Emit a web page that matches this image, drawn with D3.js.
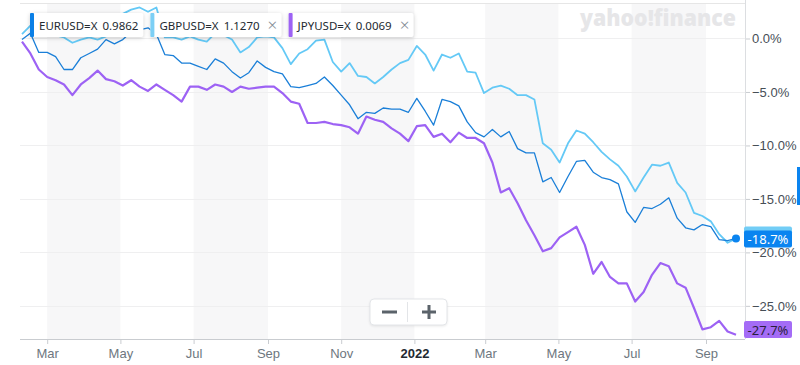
<!DOCTYPE html>
<html>
<head>
<meta charset="utf-8">
<script src="https://cdn.jsdelivr.net/npm/d3@7"></script>
<style>
  body { margin: 0; background: #fff; }
  svg { display: block; font-family: "Noto Sans", "Open Sans", sans-serif; }
</style>
</head>
<body>
<svg id="chart"></svg>
<script>
'use strict';

// weekly % change since start
var eurPct = [-0.1, 0.5, -1.3, -1.3, -1.7, -2.9, -2.9, -1.8, -1.4, -1.0,
  -0.1, -0.5, -0.1, 0.6, 0.8, 1.0, 0.4, -1.5, -1.6, -2.3,
  -2.3, -2.6, -2.9, -1.9, -2.3, -3.1, -3.7, -3.2, -2.1, -2.7,
  -3.1, -3.3, -4.5, -4.6, -4.4, -4.2, -3.6, -4.4, -5.3, -6.2,
  -7.5, -6.9, -7.0, -6.5, -6.6, -6.6, -6.9, -5.6, -6.8, -8.1,
  -5.7, -5.9, -6.3, -7.8, -8.8, -9.2, -8.5, -9.2, -8.7, -10.3,
  -10.7, -10.7, -13.4, -13.0, -14.4, -12.9, -11.5, -11.4, -12.5, -13.0,
  -13.2, -13.6, -16.2, -17.2, -15.8, -15.9, -15.5, -14.9, -16.8, -17.7,
  -17.9, -17.4, -17.6, -18.8, -18.9, -18.7];
var gbpPct = [0.4, 1.2, 1.0, 0.6, 0.3, 0.1, -0.4, -0.1, 0.1, -0.1,
  0.2, 1.0, 2.3, 2.7, 2.9, 2.5, 2.9, 0.1, 0.1, -0.1,
  0.2, -0.1, -0.3, 0.5, 0.3, -0.1, -1.3, -0.8, 0.1, 0.2,
  0.1, -0.9, -2.4, -1.4, -1.0, -0.2, -0.1, -2.2, -3.1, -2.3,
  -3.5, -3.6, -4.2, -3.6, -2.9, -2.3, -2.0, -0.7, -1.5, -3.0,
  -1.5, -1.8, -1.4, -3.1, -3.2, -5.1, -4.6, -4.4, -4.7, -5.3,
  -5.3, -5.7, -9.8, -10.4, -11.6, -9.8, -8.6, -8.9, -9.7, -10.6,
  -11.3, -11.9, -12.9, -14.3, -13.0, -11.8, -11.9, -11.6, -13.5, -14.4,
  -16.3, -16.6, -17.1, -18.3, -19.1, -18.7];
var jpyPct = [-0.3, -1.4, -2.9, -3.6, -3.9, -4.3, -5.3, -4.3, -3.7, -3.0,
  -3.8, -4.0, -4.4, -3.9, -4.5, -4.9, -4.3, -4.8, -5.3, -5.9,
  -4.5, -4.5, -4.8, -4.3, -4.5, -5.0, -4.5, -4.7, -4.6, -4.5,
  -4.5, -5.1, -5.9, -6.1, -7.9, -7.9, -7.8, -8.0, -8.1, -8.3,
  -8.9, -7.3, -7.6, -7.8, -8.4, -8.9, -9.6, -8.2, -8.1, -9.2,
  -8.9, -9.7, -8.8, -9.3, -9.3, -9.8, -11.6, -14.4, -14.0, -15.4,
  -17.0, -18.4, -19.9, -19.6, -18.6, -18.1, -17.6, -19.3, -22.0, -20.9,
  -22.3, -22.9, -22.9, -24.6, -23.7, -22.1, -21.0, -21.3, -22.9, -23.3,
  -25.2, -27.2, -27.0, -26.4, -27.4, -27.7];

var symbols = ['EURUSD=X', 'GBPUSD=X', 'JPYUSD=X'];
var prices = ['0.9862', '1.1270', '0.0069'];
// gbp's label is hidden under eur's in the original, so it has no text
var lastLabels = ['-18.7%', '', '-27.7%'];
var yTicks = [0, -5, -10, -15, -20, -25];
var monthTicks = ['2021-03-01', '2021-05-01', '2021-07-01', '2021-09-01', '2021-11-01',
  '2022-01-01', '2022-03-01', '2022-05-01', '2022-07-01', '2022-09-01'];
// shaded two-month bands
var bandStarts = ['2021-03-01', '2021-07-01', '2021-11-01', '2022-03-01', '2022-07-01'];
var bandEnds = ['2021-05-01', '2021-09-01', '2022-01-01', '2022-05-01', '2022-09-01'];

(function() {
  var colors = ['#1a7fd8', '#64c9f6', '#9d62f4'];
  var boxColors = ['#0a84f0', '#72cdf6', '#a46cf6'];

  var canvasWidth = 800;
  var canvasHeight = 365;
  var plotLeft = 20, plotRight = 745, plotTop = 3, plotBottom = 339;

  var parse = d3.utcParse('%Y-%m-%d');
  var dates = d3.utcMonday.range(parse('2021-02-08'), parse('2022-09-27'));

  var svg = d3.select('#chart')
    .attr('width', canvasWidth)
    .attr('height', canvasHeight);

  var xScale = d3.scaleUtc()
    .domain([dates[0], dates[dates.length - 1]])
    .range([22, 736]);
  var yScale = d3.scaleLinear()
    .domain([-28.1, 3.6])
    .range([plotBottom, 0]);

  // background bands
  svg.append('g').selectAll('rect')
    .data(bandStarts)
    .enter()
    .append('rect')
      .attr('x', function(d) { return xScale(parse(d)); })
      .attr('y', plotTop)
      .attr('width', function(d, i) { return xScale(parse(bandEnds[i])) - xScale(parse(d)); })
      .attr('height', plotBottom - plotTop)
      .attr('fill', '#f7f7f8');

  // watermark
  svg.append('text')
    .attr('x', 580)
    .attr('y', 26)
    .attr('textLength', 156)
    .attr('lengthAdjust', 'spacingAndGlyphs')
    .style('font-size', '23px')
    .style('font-weight', 900)
    .style('fill', '#e6e6e8')
    .text('yahoo!finance');

  // grid lines
  svg.append('g').selectAll('line')
    .data(yTicks)
    .enter()
    .append('line')
      .attr('x1', plotLeft)
      .attr('x2', plotRight)
      .attr('y1', function(d) { return Math.round(yScale(d)) + 0.5; })
      .attr('y2', function(d) { return Math.round(yScale(d)) + 0.5; })
      .attr('stroke', '#efeff0');

  svg.append('line')
    .attr('x1', plotLeft).attr('x2', plotRight)
    .attr('y1', plotTop + 0.5).attr('y2', plotTop + 0.5)
    .attr('stroke', '#e6e6e6');

  // x axis
  var fmtMonth = d3.utcFormat('%b');
  var xAxis = svg.append('g')
    .attr('transform', 'translate(0,' + plotBottom + ')')
    .call(d3.axisBottom(xScale)
      .tickValues(monthTicks.map(parse))
      .tickSize(5)
      .tickPadding(5)
      .tickFormat(function(d) { return d.getUTCMonth() === 0 ? d.getUTCFullYear() : fmtMonth(d); }));
  xAxis.select('.domain').remove();
  xAxis.selectAll('.tick line').attr('stroke', '#c9ccd0');
  xAxis.selectAll('.tick text')
    .style('font-size', '13px')
    .style('fill', function(d) { return d.getUTCMonth() === 0 ? '#232a31' : '#6e7780'; })
    .style('font-weight', function(d) { return d.getUTCMonth() === 0 ? 600 : 400; });

  svg.append('line')
    .attr('x1', plotLeft).attr('x2', plotRight)
    .attr('y1', plotBottom + 0.5).attr('y2', plotBottom + 0.5)
    .attr('stroke', '#c9ccd0');

  // y axis on the right
  var yAxis = svg.append('g')
    .attr('transform', 'translate(' + plotRight + ',0)')
    .call(d3.axisRight(yScale)
      .tickValues(yTicks)
      .tickSize(5)
      .tickPadding(2)
      .tickFormat(function(d) { return d3.format('.1f')(d) + '%'; }));
  yAxis.select('.domain').remove();
  yAxis.selectAll('.tick line').attr('stroke', '#c9ccd0');
  yAxis.selectAll('.tick text')
    .style('font-size', '13px')
    .style('fill', '#464e56');

  svg.append('line')
    .attr('x1', plotRight + 0.5).attr('x2', plotRight + 0.5)
    .attr('y1', 0).attr('y2', plotBottom)
    .attr('stroke', '#dcdee1');

  // lines
  var line = d3.line()
    .x(function(d, i) { return xScale(dates[i]); })
    .y(function(d) { return yScale(d); });

  var series = [eurPct, gbpPct, jpyPct];
  var widths = [1.3, 1.8, 2.2];
  [2, 1, 0].forEach(function(k) {
    svg.append('path')
      .datum(series[k])
      .attr('d', line)
      .attr('fill', 'none')
      .attr('stroke', colors[k])
      .attr('stroke-width', widths[k])
      .attr('stroke-linejoin', 'round');
  });

  // end dot for the main series
  svg.append('circle')
    .attr('cx', xScale(dates[dates.length - 1]))
    .attr('cy', yScale(eurPct[eurPct.length - 1]))
    .attr('r', 4)
    .attr('fill', boxColors[0]);

  // last value labels (gbp sits behind eur, jpy kept inside the plot)
  var lastY = [
    yScale(eurPct[eurPct.length - 1]) + 0.5,
    yScale(eurPct[eurPct.length - 1]) - 3.5,
    Math.min(yScale(jpyPct[jpyPct.length - 1]), plotBottom - 9.5)
  ];
  [1, 0, 2].forEach(function(k) {
    var g = svg.append('g').attr('transform', 'translate(' + (plotRight - 1) + ',' + lastY[k] + ')');
    g.append('rect')
      .attr('x', 0).attr('y', -8.5)
      .attr('width', 48).attr('height', 17)
      .attr('rx', 2)
      .attr('fill', boxColors[k]);
    if (lastLabels[k]) {
      g.append('text')
        .attr('x', 24).attr('y', 5)
        .attr('text-anchor', 'middle')
        .style('font-size', '13px')
        .style('fill', k === 2 ? '#2a1f3d' : '#ffffff')
        .text(lastLabels[k]);
    }
  });

  // small marker at the right edge
  svg.append('rect')
    .attr('x', 797).attr('y', 167)
    .attr('width', 3).attr('height', 38)
    .attr('fill', '#0a84f0');

  // legend chips
  var chipX = 30;
  symbols.forEach(function(s, i) {
    var g = svg.append('g').attr('transform', 'translate(' + chipX + ',13)');
    var bg = g.append('rect')
      .attr('height', 24)
      .attr('rx', 2)
      .attr('fill', '#ffffff')
      .style('filter', 'drop-shadow(0 1px 2px rgba(0,0,0,0.18))');
    g.append('rect')
      .attr('width', 4).attr('height', 24)
      .attr('rx', 1)
      .attr('fill', i === 1 ? '#7ccff5' : (i === 0 ? '#0a7fe6' : colors[2]));
    var t1 = g.append('text')
      .attr('x', 9).attr('y', 16.5)
      .style('font-size', '11.5px')
      .style('fill', '#232a31')
      .text(s);
    var w = 9 + t1.node().getComputedTextLength() + 5;
    var t2 = g.append('text')
      .attr('x', w).attr('y', 16.5)
      .style('font-size', '11.5px')
      .style('fill', '#232a31')
      .text(prices[i]);
    w += t2.node().getComputedTextLength();
    if (i > 0) {
      g.append('text')
        .attr('x', w + 8).attr('y', 17.5)
        .style('font-size', '17px')
        .style('font-weight', 300)
        .style('fill', '#828a93')
        .text('\u00d7');
      w += 8 + 9;
    }
    w += 5;
    bg.attr('width', w);
    chipX += w + 7;
  });

  // zoom buttons
  var zb = svg.append('g').attr('transform', 'translate(370,299)');
  zb.append('rect')
    .attr('width', 77).attr('height', 26)
    .attr('rx', 4)
    .attr('fill', '#ffffff')
    .attr('stroke', '#e3e5e8')
    .style('filter', 'drop-shadow(0 1px 1px rgba(0,0,0,0.08))');
  zb.append('line')
    .attr('x1', 37.5).attr('x2', 37.5)
    .attr('y1', 3).attr('y2', 23)
    .attr('stroke', '#e3e5e8');
  zb.append('rect')
    .attr('x', 12).attr('y', 11.5)
    .attr('width', 15).attr('height', 3)
    .attr('fill', '#5b636a');
  zb.append('rect')
    .attr('x', 52).attr('y', 11.5)
    .attr('width', 14).attr('height', 3)
    .attr('fill', '#5b636a');
  zb.append('rect')
    .attr('x', 57.5).attr('y', 6)
    .attr('width', 3).attr('height', 14)
    .attr('fill', '#5b636a');
})();
</script>
</body>
</html>
